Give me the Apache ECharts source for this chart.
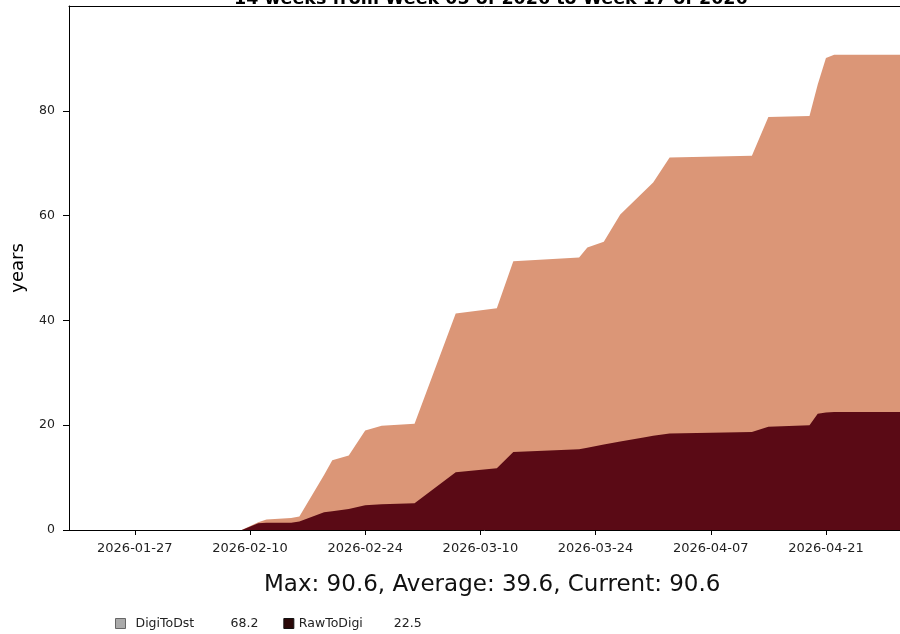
<!DOCTYPE html>
<html>
<head>
<meta charset="utf-8">
<script src="https://cdn.jsdelivr.net/npm/echarts@6/dist/echarts.min.js"></script>
<style>
html,body{margin:0;padding:0;background:#ffffff;}
#chart{width:900px;height:634px;}
</style>
</head>
<body>
<div id="chart"></div>
<script>
// ---- data ----
var dates = ['2026-01-19','2026-02-09','2026-02-11','2026-02-12','2026-02-15','2026-02-16',
  '2026-02-19','2026-02-20','2026-02-22','2026-02-24','2026-02-26','2026-03-02','2026-03-07',
  '2026-03-12','2026-03-14','2026-03-22','2026-03-23','2026-03-25','2026-03-27','2026-03-30',
  '2026-03-31','2026-04-02','2026-04-12','2026-04-14','2026-04-19','2026-04-20','2026-04-21',
  '2026-04-22','2026-04-30'];
var rawToDigi = [0,0,1.3,1.4,1.4,1.6,3.4,3.6,4.0,4.7,4.9,5.1,11.0,11.8,14.9,15.4,15.7,16.3,16.9,17.7,
  18.0,18.4,18.7,19.7,20.0,22.2,22.4,22.5,22.5];
var digiToDst = [0,0,0.2,0.6,0.9,1.0,7.1,9.7,10.2,14.3,15.0,15.2,30.3,30.5,36.4,36.6,38.2,38.7,43.3,47.1,
  48.3,52.7,52.7,59.1,59.0,62.8,67.7,68.2,68.2];
var seriesNames = ['DigiToDst','RawToDigi'];
var legendValues = ['68.2','22.5'];
var xTickLabels = ['2026-01-27','2026-02-10','2026-02-24','2026-03-10','2026-03-24','2026-04-07','2026-04-21'];
var yTicks = [0,20,40,60,80];
var titleText = '14 weeks from Week 05 of 2026 to Week 17 of 2026';
var statsText = 'Max: 90.6, Average: 39.6, Current: 90.6';
var yName = 'years';
var xMin = '2026-01-19', xMax = '2026-04-30';

function ts(s){ var p = s.split('-'); return Date.UTC(+p[0], +p[1]-1, +p[2]); }
function pad(n){ return (n<10?'0':'')+n; }
function fmt(v){ var d = new Date(v); return d.getUTCFullYear()+'-'+pad(d.getUTCMonth()+1)+'-'+pad(d.getUTCDate()); }

// stacked (cumulative) tops: DigiToDst sits on top of RawToDigi
var rawData = dates.map(function(d,i){ return [ts(d), rawToDigi[i]]; });
var topData = dates.map(function(d,i){ return [ts(d), +(rawToDigi[i] + digiToDst[i]).toFixed(3)]; });

var font = 'DejaVu Sans';
var chart = echarts.init(document.getElementById('chart'), null, {renderer:'canvas'});
var option = {
  backgroundColor: '#ffffff',
  animation: false,
  textStyle: {fontFamily: font},
  title: [
    {text: titleText, left: 229, top: -15, padding: 5,
     textStyle: {fontFamily: font, fontSize: 17.5, fontWeight: 'bold', color: '#000'}},
    {text: statsText, left: 259, top: 569,
     textStyle: {fontFamily: font, fontSize: 23, fontWeight: 'normal', color: '#111'}}
  ],
  grid: {left: 69, right: 0, top: 6, bottom: 104, show: false},
  legend: {
    left: 115, top: 617, padding: 0, icon: 'rect', itemWidth: 10, itemHeight: 10, itemGap: 25,
    data: [
      {name: seriesNames[0], itemStyle: {color: '#aaaaaa', borderColor: '#666666', borderWidth: 1}},
      {name: seriesNames[1], itemStyle: {color: '#2a0808', borderColor: '#111', borderWidth: 1}}
    ],
    formatter: function(name){ var k = seriesNames.indexOf(name); return '{n'+k+'|'+name+'}{v|'+legendValues[k]+'}'; },
    textStyle: {fontFamily: font, fontSize: 12.5, color: '#222',
      rich: {n0: {width: 95, padding: [0,0,0,5], fontFamily: font, fontSize: 12.5, color: '#222'},
             n1: {width: 95, fontFamily: font, fontSize: 12.5, color: '#222'},
             v: {width: 40, fontFamily: font, fontSize: 12.5, color: '#222'}}}
  },
  xAxis: [{
    type: 'value', min: ts(xMin), max: ts(xMax), scale: true, position: 'bottom',
    axisLine: {show: true, onZero: false, lineStyle: {color: '#000', width: 1}},
    axisTick: {show: true, length: 5, inside: false, lineStyle: {color: '#000'}, customValues: xTickLabels.map(ts)},
    axisLabel: {customValues: xTickLabels.map(ts), formatter: function(v){ return fmt(v); },
      fontFamily: font, fontSize: 13, color: '#222', margin: 12, hideOverlap: false},
    splitLine: {show: false}, minorTick: {show: false}
  }, {
    type: 'value', min: ts(xMin), max: ts(xMax), scale: true, position: 'top',
    axisLine: {show: true, onZero: false, lineStyle: {color: '#000', width: 1}},
    axisTick: {show: false}, axisLabel: {show: false}, splitLine: {show: false}
  }],
  yAxis: {
    type: 'value', min: 0, max: 100,
    name: yName, nameLocation: 'middle', nameGap: 42,
    nameTextStyle: {fontFamily: font, fontSize: 18, color: '#000'},
    axisLine: {show: true, onZero: false, lineStyle: {color: '#000', width: 1}},
    axisTick: {show: true, length: 6, inside: false, lineStyle: {color: '#000'}, customValues: yTicks},
    axisLabel: {customValues: yTicks, fontFamily: font, fontSize: 12.5, color: '#222', margin: 14},
    splitLine: {show: false}
  },
  series: [
    {name: seriesNames[0], type: 'line', xAxisIndex: 0, showSymbol: false, symbol: 'none',
     lineStyle: {width: 0}, itemStyle: {color: '#db9677'},
     areaStyle: {color: '#db9677', opacity: 1, origin: 'start'},
     data: topData},
    {name: seriesNames[1], type: 'line', xAxisIndex: 0, showSymbol: false, symbol: 'none',
     lineStyle: {width: 0}, itemStyle: {color: '#5a0a15'},
     areaStyle: {color: '#5a0a15', opacity: 1, origin: 'start'},
     data: rawData}
  ]
};
chart.setOption(option);
</script>
</body>
</html>
